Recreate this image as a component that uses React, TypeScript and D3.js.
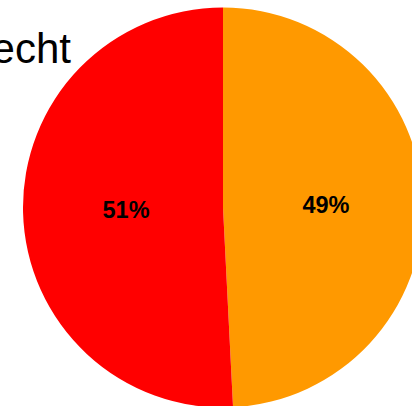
import React from "react";
import * as d3 from "d3";

const categories = ["weiblich", "männlich"];
const values = [49.2, 50.8];
const labels = ["49%", "51%"];
const colors = ["#FF9900", "#FF0000"];
const title = "Geschlecht";

export default function App() {
  const width = 412;
  const height = 406;
  const cx = 223;
  const cy = 207.5;
  const r = 200;

  const pie = d3
    .pie<number>()
    .sort(null)
    .startAngle(0)
    .endAngle(2 * Math.PI)
    .value((d) => d);
  const arcs = pie(values);
  const arc = d3.arc<d3.PieArcDatum<number>>().innerRadius(0).outerRadius(r);
  const labelArc = d3
    .arc<d3.PieArcDatum<number>>()
    .innerRadius(r * 0.5)
    .outerRadius(r * 0.5);

  return (
    <svg
      width={width}
      height={height}
      style={{ position: "absolute", left: 0, top: 0, overflow: "hidden" }}
    >
      <rect width={width} height={height} fill="#ffffff" />
      <g transform={`translate(${cx},${cy})`}>
        {arcs.map((a, i) => (
          <path key={categories[i]} d={arc(a) || ""} fill={colors[i]} />
        ))}
        {arcs.map((a, i) => {
          const [x, y] = labelArc.centroid(a);
          return (
            <text
              key={"l" + i}
              x={x + 3}
              y={y}
              dy="0.35em"
              textAnchor="middle"
              fontFamily="Liberation Sans, Arial, sans-serif"
              fontWeight="bold"
              fontSize={23.5}
              fill="#000"
            >
              {labels[i]}
            </text>
          );
        })}
      </g>
      <text
        x={71}
        y={63}
        textAnchor="end"
        fontFamily="Liberation Sans, Arial, sans-serif"
        fontSize={42}
        fill="#000"
      >
        {title}
      </text>
    </svg>
  );
}
